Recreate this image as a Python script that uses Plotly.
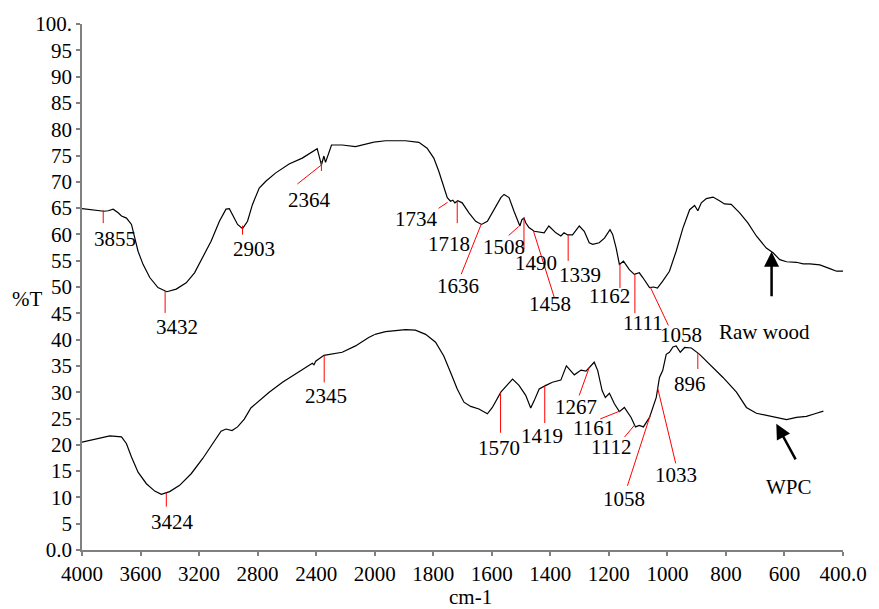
import numpy as np
import plotly.graph_objects as go

# FTIR spectra: wavenumber (cm-1) vs transmittance (%T)
raw_wavenumber = [
    4000, 3923, 3850, 3821, 3787, 3753, 3730, 3696, 3662, 3639,
    3617, 3583, 3537, 3481, 3420, 3356, 3288, 3231, 3175, 3118,
    3061, 3016, 2993, 2971, 2937, 2903, 2869, 2835, 2789, 2744,
    2676, 2585, 2495, 2393, 2364, 2347, 2336, 2295, 2222, 2131,
    2041, 1963, 1895, 1849, 1821, 1798, 1781, 1764, 1752, 1741,
    1733, 1726, 1716, 1701, 1678, 1655, 1635, 1615, 1592, 1569,
    1558, 1541, 1524, 1509, 1504, 1497, 1490, 1484, 1473, 1455,
    1438, 1421, 1405, 1395, 1381, 1364, 1353, 1341, 1324, 1301,
    1284, 1267, 1255, 1233, 1215, 1196, 1187, 1175, 1164, 1150,
    1130, 1113, 1096, 1084, 1061, 1047, 1034, 1016, 993, 970,
    947, 924, 907, 896, 884, 867, 844, 822, 805, 782,
    753, 725, 696, 662, 639, 616, 593, 559, 536, 513,
    479, 445, 422, 400,
]
raw_transmittance = [
    64.9, 64.7, 64.4, 64.5, 64.8, 64.1, 63.5, 63.1, 61.9, 59.3,
    56.8, 54.3, 51.8, 49.9, 49.1, 49.6, 50.8, 52.7, 55.6, 58.7,
    62.5, 64.8, 64.9, 63.8, 61.9, 61.1, 62.5, 65.7, 68.8, 70.1,
    71.7, 73.4, 74.5, 76.3, 73.2, 74.9, 73.7, 77.0, 77.0, 76.7,
    77.3, 77.8, 77.8, 77.5, 76.4, 74.5, 72.0, 69.1, 67.0, 66.3,
    66.5, 66.0, 66.4, 66.0, 64.1, 62.5, 61.9, 62.5, 64.7, 67.0,
    67.6, 67.0, 64.4, 62.2, 61.6, 62.8, 63.1, 62.2, 61.3, 60.6,
    60.5, 60.3, 61.6, 61.1, 60.3, 59.7, 60.3, 59.9, 59.9, 61.6,
    60.6, 58.4, 58.1, 58.4, 59.3, 60.9, 60.0, 57.4, 54.3, 54.9,
    53.3, 52.4, 52.7, 51.8, 49.9, 50.0, 49.8, 51.1, 53.0, 56.8,
    61.2, 64.7, 65.5, 64.5, 66.0, 66.8, 67.1, 66.4, 65.8, 65.7,
    64.1, 62.2, 59.7, 57.4, 56.5, 55.2, 54.8, 54.7, 54.4, 54.4,
    54.2, 53.5, 53.0, 53.0,
]

wpc_wavenumber = [
    4000, 3900, 3810, 3730, 3696, 3662, 3617, 3560, 3503, 3458,
    3401, 3333, 3254, 3175, 3107, 3050, 3016, 2975, 2937, 2891,
    2846, 2789, 2721, 2630, 2540, 2449, 2426, 2415, 2403, 2347,
    2222, 2131, 2041, 1963, 1895, 1861, 1826, 1792, 1764, 1741,
    1718, 1695, 1672, 1644, 1615, 1598, 1569, 1529, 1507, 1484,
    1467, 1455, 1438, 1415, 1393, 1364, 1345, 1318, 1295, 1278,
    1267, 1250, 1238, 1223, 1212, 1198, 1181, 1164, 1147, 1124,
    1109, 1096, 1082, 1061, 1038, 1027, 1016, 1004, 993, 981,
    970, 956, 941, 918, 890, 856, 810, 764, 730, 696,
    650, 616, 593, 559, 525, 496, 467,
]
wpc_transmittance = [
    20.5, 21.2, 21.7, 21.5, 20.2, 17.7, 14.8, 12.6, 11.2, 10.6,
    11.1, 12.3, 14.5, 17.4, 20.2, 22.6, 23.0, 22.7, 23.4, 24.9,
    27.0, 28.4, 30.0, 31.9, 33.5, 35.2, 35.5, 35.2, 35.9, 37.0,
    37.6, 38.8, 40.4, 41.5, 41.9, 41.8, 41.0, 39.5, 36.9, 33.8,
    30.6, 28.1, 27.3, 26.8, 25.9, 27.1, 30.0, 32.5, 31.3, 29.4,
    27.0, 28.4, 30.6, 31.3, 31.9, 32.3, 35.0, 33.3, 34.2, 34.0,
    34.7, 35.7, 34.1, 30.3, 29.0, 29.8, 27.8, 26.3, 27.1, 25.2,
    23.4, 23.7, 23.4, 25.2, 29.0, 32.8, 34.1, 37.2, 37.6, 38.6,
    38.8, 37.6, 38.5, 38.4, 37.2, 35.4, 32.8, 30.0, 27.1, 26.0,
    25.4, 25.1, 24.8, 25.2, 25.4, 25.9, 26.4,
]

# Assigned band positions (cm-1)
raw_peaks = [3855, 3432, 2903, 2364, 1734, 1718, 1636, 1508, 1490, 1458, 1339, 1162, 1111, 1058]
wpc_peaks = [3424, 2345, 1570, 1419, 1267, 1161, 1112, 1058, 1033, 896]

# Sample names and where their pointer arrows aim (cm-1)
sample_names = ["Raw wood", "WPC"]
arrow_wavenumbers = [644, 641]

# Axis ticks: 400 cm-1 steps above 2000, 200 cm-1 steps below
x_ticks_high = [4000, 3600, 3200, 2800, 2400]
x_ticks_low = [2000, 1800, 1600, 1400, 1200, 1000, 800, 600, 400]
x_ticktext_low = ["2000", "1800", "1600", "1400", "1200", "1000", "800", "600", "400.0"]
y_ticks = list(range(0, 101, 5))
y_ticktext = ["0.0"] + [str(v) for v in range(5, 100, 5)] + ["100."]

BREAK = 2000
FONT = "Liberation Serif"
FS = 21
RED = "#FF0000"

# Leader-line and label offsets in pixels (dx right, dy down) from each band tip
raw_style = {
    3855: dict(seg=[((0, -1), (0, 12))], txt=(12, 28)),
    3432: dict(seg=[((0, 0), (0, 22))], txt=(12, 36)),
    2903: dict(seg=[((0, -3), (0, 6))], txt=(11, 20)),
    2364: dict(seg=[((0, -4), (0, 6)), ((0, 0), (-24, 19))], txt=(-12, 35)),
    1734: dict(seg=[((-5, 2), (-14, 8))], txt=(-36, 19)),
    1718: dict(seg=[((0, 0), (0, 22))], txt=(-8, 43)),
    1636: dict(seg=[((0, 0), (-20, 50))], txt=(-23, 62)),
    1508: dict(seg=[((0, 3), (-10, 12))], txt=(-15, 24)),
    1490: dict(seg=[((0, 0), (0, 31))], txt=(12, 45)),
    1458: dict(seg=[((0, 0), (21, 67))], txt=(17, 73)),
    1339: dict(seg=[((0, 0), (0, 26))], txt=(12, 40)),
    1162: dict(seg=[((0, 0), (0, 24))], txt=(-10, 32)),
    1111: dict(seg=[((0, 0), (0, 39))], txt=(8, 49)),
    1058: dict(seg=[((0, 0), (18, 38))], txt=(31, 48)),
}
wpc_style = {
    3424: dict(seg=[((0, 0), (0, 14))], txt=(6, 29)),
    2345: dict(seg=[((0, 0), (0, 27))], txt=(2, 41)),
    1570: dict(seg=[((0, 0), (0, 40))], txt=(-2, 55)),
    1419: dict(seg=[((0, 0), (0, 37))], txt=(-3, 50)),
    1267: dict(seg=[((0, 0), (-10, 28))], txt=(-13, 40)),
    1161: dict(seg=[((0, 0), (-20, 8))], txt=(-27, 17)),
    1112: dict(seg=[((0, 0), (-10, 12))], txt=(-24, 22)),
    1058: dict(seg=[((0, 0), (-23, 71))], txt=(-26, 84)),
    1033: dict(seg=[((0, 0), (18, 75))], txt=(18, 87)),
    896: dict(seg=[((0, 0), (0, 16))], txt=(-8, 31)),
}


def xref_for(wn):
    return "x" if wn > BREAK else "x2"


def value_at(wn, xs, ys):
    return float(np.interp(wn, xs[::-1], ys[::-1]))


fig = go.Figure()

# Each spectrum is drawn on both halves of the split wavenumber axis
for xs, ys in ((raw_wavenumber, raw_transmittance), (wpc_wavenumber, wpc_transmittance)):
    for xa in ("x", "x2"):
        fig.add_trace(go.Scatter(
            x=xs, y=ys, xaxis=xa, yaxis="y", mode="lines",
            line=dict(color="black", width=1.2),
            showlegend=False, hoverinfo="skip",
        ))

shapes = []
annotations = []


def add_band_labels(peaks, style, xs, ys):
    for wn in peaks:
        tip = value_at(wn, xs, ys)
        xr = xref_for(wn)
        st = style[wn]
        for (sx, sy), (ex, ey) in st["seg"]:
            shapes.append(dict(
                type="line", xref=xr, yref="y",
                xsizemode="pixel", xanchor=wn, x0=sx, x1=ex,
                ysizemode="pixel", yanchor=tip, y0=-sy, y1=-ey,
                line=dict(color=RED, width=1),
            ))
        tx, ty = st["txt"]
        annotations.append(dict(
            xref=xr, yref="y", x=wn, y=tip, text=str(wn), showarrow=False,
            xshift=tx, yshift=-ty, xanchor="center", yanchor="middle",
            font=dict(family=FONT, size=FS, color="black"),
        ))


add_band_labels(raw_peaks, raw_style, raw_wavenumber, raw_transmittance)
add_band_labels(wpc_peaks, wpc_style, wpc_wavenumber, wpc_transmittance)

# Sample pointers: arrow towards the curve and the sample name below it
arrow_geom = {"Raw wood": dict(ax=0, ay=46, standoff=0, txt=(-7, 80)),
              "WPC": dict(ax=24, ay=44, standoff=8, txt=(17, 70))}
for name, wn, (xs, ys) in zip(sample_names, arrow_wavenumbers,
                              [(raw_wavenumber, raw_transmittance), (wpc_wavenumber, wpc_transmittance)]):
    tip = value_at(wn, xs, ys)
    g = arrow_geom[name]
    annotations.append(dict(
        xref=xref_for(wn), yref="y", x=wn, y=tip, text="", showarrow=True,
        arrowhead=2, arrowsize=1.2, arrowwidth=2.5, arrowcolor="black",
        ax=g["ax"], ay=g["ay"], standoff=g["standoff"],
    ))
    annotations.append(dict(
        xref=xref_for(wn), yref="y", x=wn, y=tip, text=name, showarrow=False,
        xshift=g["txt"][0], yshift=-g["txt"][1], xanchor="center", yanchor="middle",
        font=dict(family=FONT, size=FS, color="black"),
    ))

# Axis titles
annotations.append(dict(xref="paper", yref="paper", x=0, y=0.477, xshift=-55,
                        text="%T", showarrow=False, xanchor="center", yanchor="middle",
                        font=dict(family=FONT, size=FS, color="black")))
annotations.append(dict(xref="paper", yref="paper", x=0.511, y=-0.09,
                        text="cm-1", showarrow=False, xanchor="center", yanchor="middle",
                        font=dict(family=FONT, size=FS, color="black")))

split = 5 / 13
axis_common = dict(
    showgrid=False, zeroline=False, showline=True, linecolor="#808080", linewidth=1.5,
    ticks="outside", ticklen=4, tickcolor="#808080", tickwidth=1.5,
    tickfont=dict(family=FONT, size=FS, color="black"),
)

fig.update_layout(
    width=879, height=609,
    margin=dict(l=82, r=36, t=22, b=59),
    paper_bgcolor="white", plot_bgcolor="white",
    xaxis=dict(domain=[0, split], range=[4000, BREAK], anchor="y",
               tickmode="array", tickvals=x_ticks_high,
               ticktext=[str(v) for v in x_ticks_high], **axis_common),
    xaxis2=dict(domain=[split, 1], range=[BREAK, 400], anchor="y",
                tickmode="array", tickvals=x_ticks_low, ticktext=x_ticktext_low,
                **axis_common),
    yaxis=dict(range=[0, 100], anchor="x", tickmode="array",
               tickvals=y_ticks, ticktext=y_ticktext, **axis_common),
    shapes=shapes,
    annotations=annotations,
)

fig.write_html("out.html")
